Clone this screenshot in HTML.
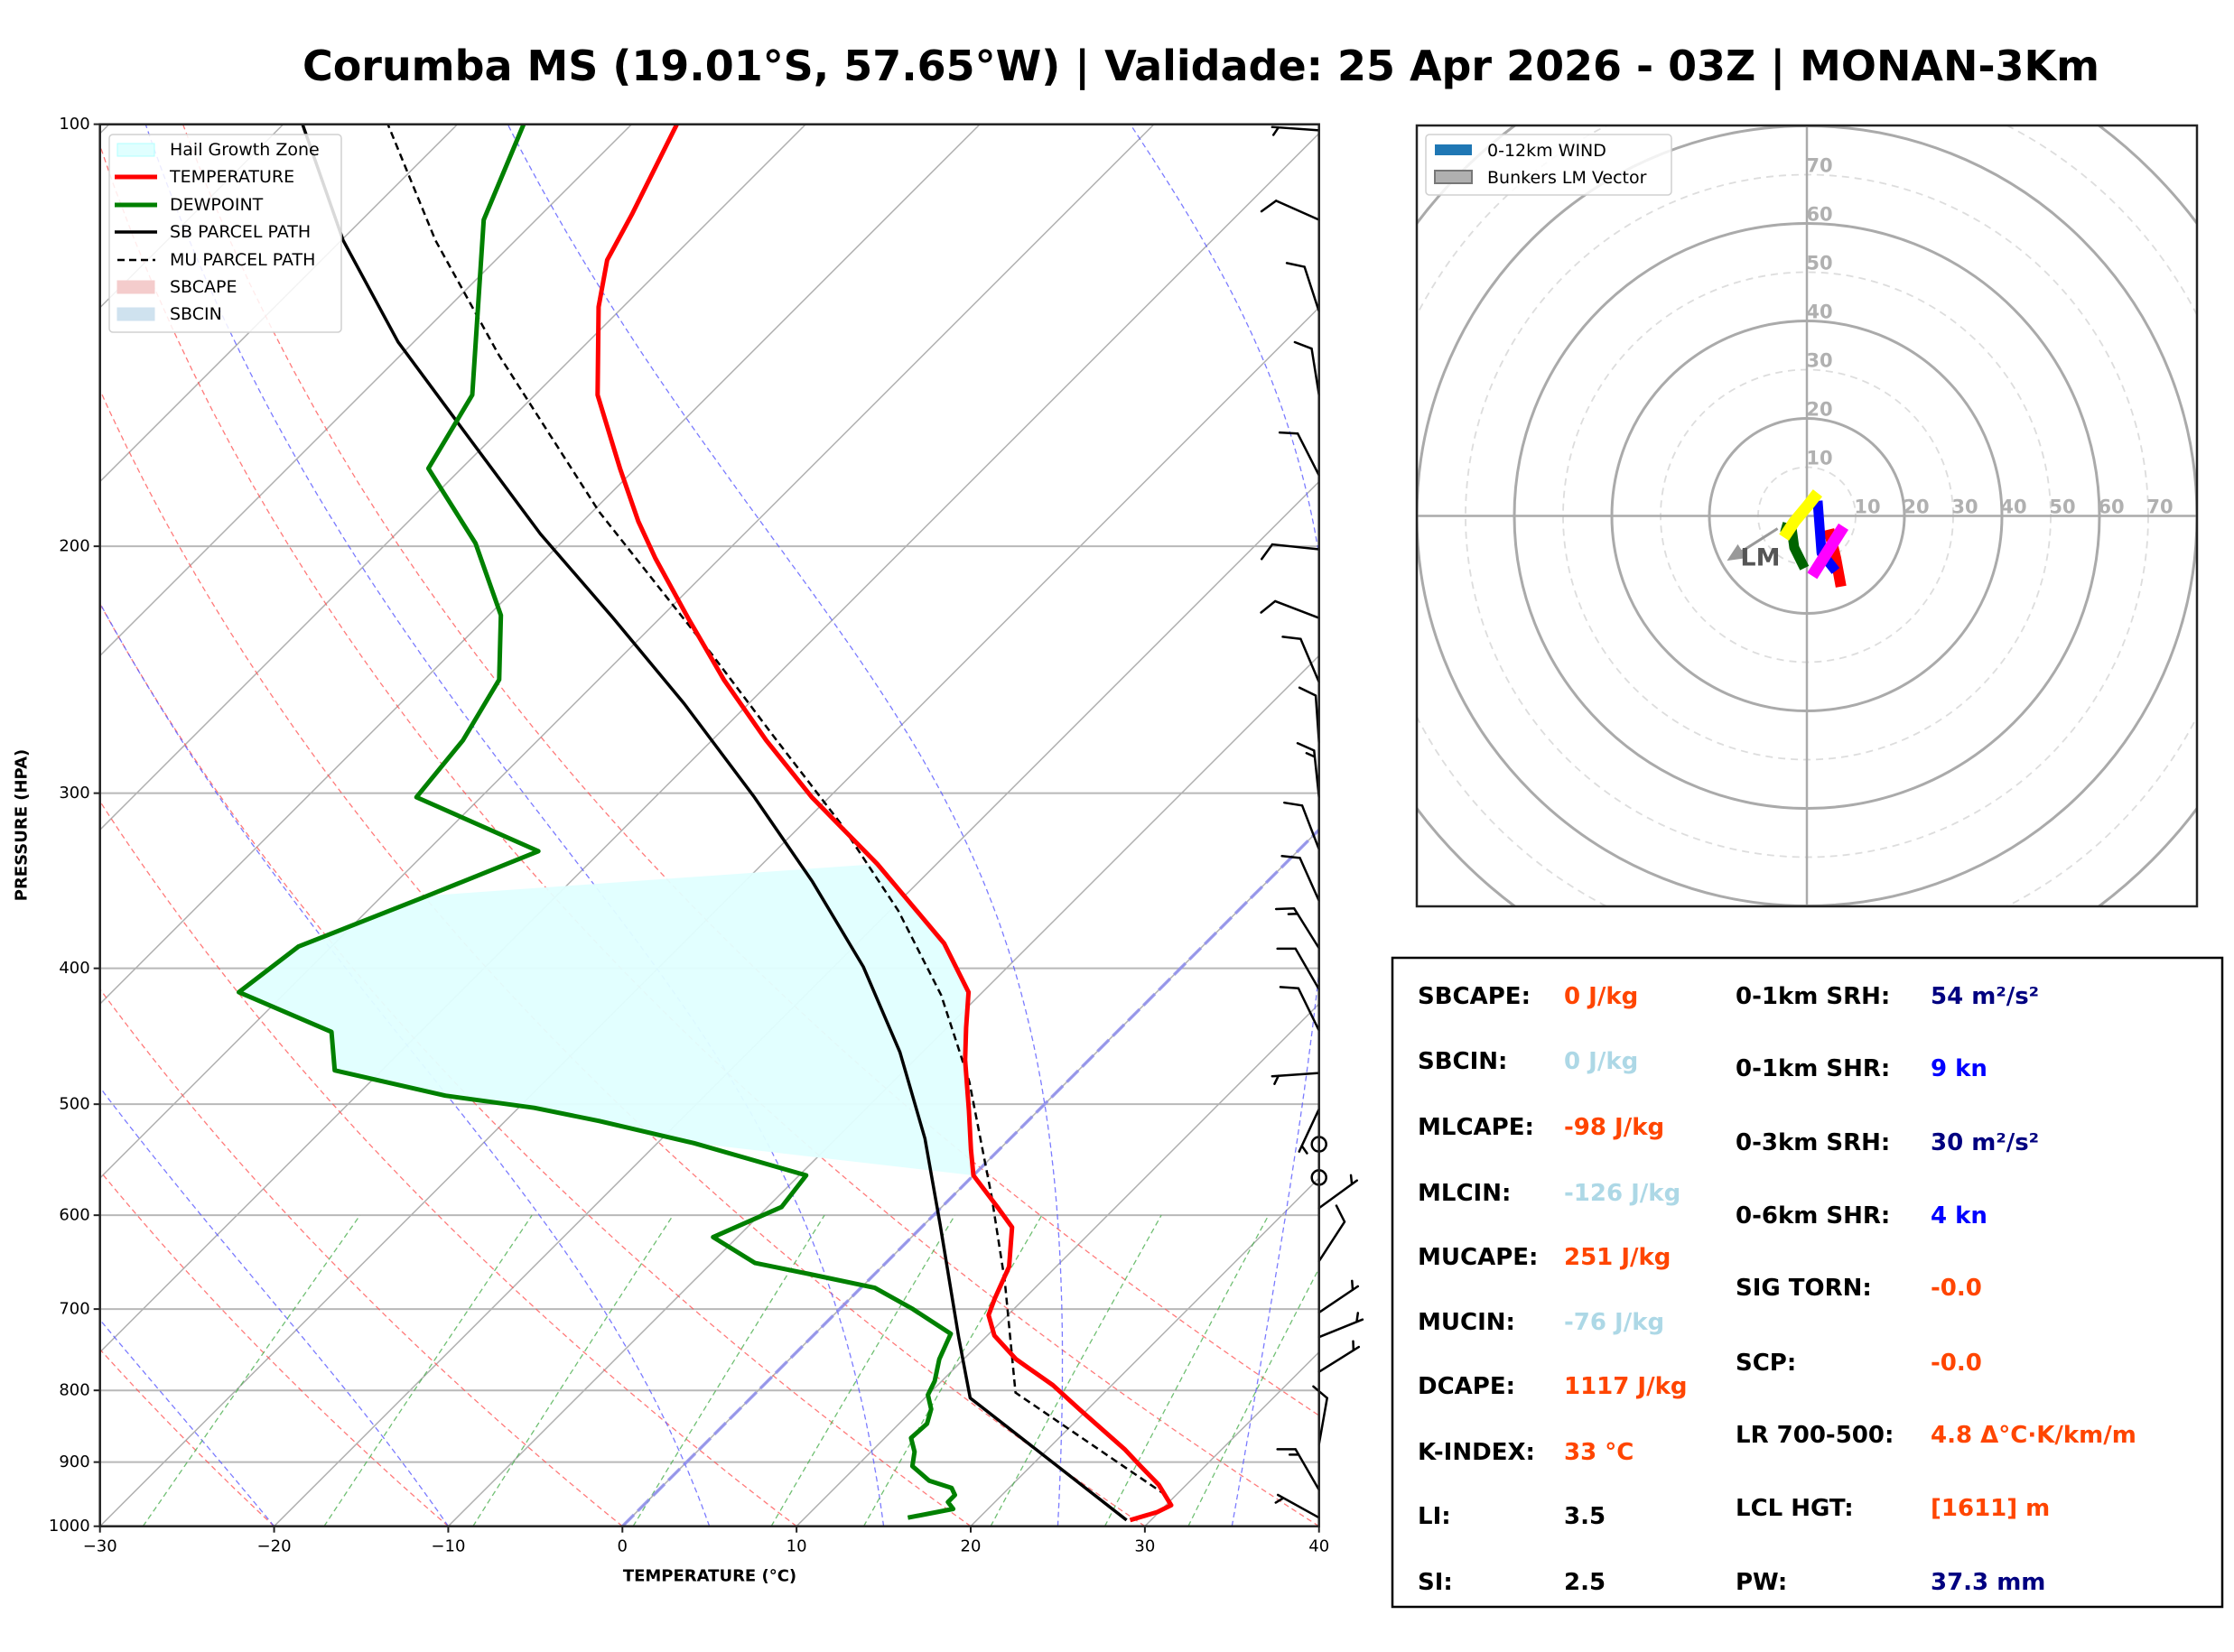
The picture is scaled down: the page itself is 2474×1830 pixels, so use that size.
<!DOCTYPE html>
<html><head><meta charset="utf-8"><style>
html,body{margin:0;padding:0;background:#fff;}
svg{display:block;font-family:"DejaVu Sans","Liberation Sans",sans-serif;}
</style></head><body>
<svg id="fig" xmlns="http://www.w3.org/2000/svg" width="2474" height="1830" viewBox="0 0 2474 1830">
<rect x="0" y="0" width="2474" height="1830" fill="#fff"/>
<text x="1330" y="73" text-anchor="middle" dominant-baseline="central" font-size="46" font-weight="bold" textLength="1990" lengthAdjust="spacingAndGlyphs">Corumba MS (19.01°S, 57.65°W) | Validade: 25 Apr 2026 - 03Z | MONAN-3Km</text>
<defs>
<clipPath id="skclip"><rect x="110.7" y="137.7" width="1350" height="1553"/></clipPath>
<clipPath id="hdclip"><rect x="1569" y="139" width="864" height="865"/></clipPath>
</defs>
<g id="skew"></g>
<g id="hodo"></g>
<g id="stats"></g>
</svg>
<script>
// ---------- DATA ----------
const tempP = [990,977,966,934,906,881,825,793,760,731,707,688,653,612,592,562,539,505,465,441,416,384,337,302,275,249,225,204,192,176,156,135,125,116,100];
const tempT = [28.8,29.9,30.3,28.4,26.3,24.4,19.5,16.6,13.0,10.4,8.9,8.3,7.3,5.2,3.2,0.0,-1.6,-4.0,-7.1,-8.9,-10.8,-15.0,-23.4,-31.0,-36.9,-42.8,-48.4,-53.7,-56.8,-60.9,-66.4,-71.4,-73.6,-74.8,-77.4];
const dewP = [986,972,961,950,939,928,906,885,865,845,825,806,788,760,729,700,676,661,649,622,592,562,533,514,503,493,473,444,416,386,355,330,302,275,249,224,199,176,156,117,100];
const dewT = [15.9,18.0,17.3,17.3,16.7,15.0,13.2,12.5,11.5,11.6,11.0,10.0,9.6,8.6,7.8,4.2,0.8,-3.7,-7.5,-11.4,-9.2,-9.6,-17.9,-24.6,-29.1,-34.9,-42.7,-45.1,-52.7,-51.9,-47.4,-43.6,-53.7,-54.3,-55.7,-59.3,-64.9,-71.9,-73.6,-83.0,-86.2];
const sbP = [990,810,734,609,529,459,399,347,302,259,225,196,168,143,121,100];
const sbT = [28.6,12.6,8.5,0.9,-4.9,-11.3,-18.3,-26.1,-34.3,-43.7,-52.7,-61.7,-71.1,-80.9,-89.9,-98.9];
const muP = [950,803,669,581,482,418,364,315,275,239,189,146,121,100];
const muT = [29.4,14.9,7.9,2.2,-5.6,-12.2,-19.5,-27.9,-36.3,-44.9,-59.6,-74.4,-84.6,-94.0];
const hailTopP = 337, hailBotP = 562, hailDewTopP = 355, hailDewBotP = 533;
const barbP = [101,117,136,156,178,201,225,250,276,302,329,358,387,414,443,475,504,593,647,704,733,776,874,942,986];
const barbDir = [274,294,342,351,333,276,291,337,356,354,339,336,328,330,334,266,205,54,33,56,68,58,10,330,299];
const barbSpd = [5,10,10,10,10,10,10,10,10,15,10,10,15,10,10,5,5,5,10,5,5,5,10,15,5];
const calmP = [534,564];
const xTicks = [-30,-20,-10,0,10,20,30,40];
const yTicks = [100,200,300,400,500,600,700,800,900,1000];
const dryTheta = [-30,-20,-10,0,10,20,30,40,50];
const moistT0 = [-20,-10,5,15,25,35];
const mixW = [0.4,1,2,4,7,10,16,24,32];
// hodograph series (u,v in kn)
const hodoRedU = [7.0,5.9,4.5], hodoRedV = [-14.5,-8.6,-2.8];
const hodoMagU = [7.5,1.1], hodoMagV = [-2.2,-12.3];
const hodoBlueU = [5.9,3.0,2.2], hodoBlueV = [-11.3,-7.6,3.1];
const hodoYelU = [2.2,0.1,-2.6,-4.7], hodoYelV = [4.7,2.0,-1.2,-4.4];
const hodoGrnU = [-0.5,-2.6,-3.1,-5.2], hodoGrnV = [-10.7,-6.5,-2.8,-2.2];
const lmU = [-6.0,-16.4], lmV = [-2.6,-9.2];
const hodoRings = [10,20,30,40,50,60,70,80,90,100];
const hodoLabels = [10,20,30,40,50,60,70];
const statLeftLabels = ["SBCAPE:","SBCIN:","MLCAPE:","MLCIN:","MUCAPE:","MUCIN:","DCAPE:","K-INDEX:","LI:","SI:"];
const statLeftValues = ["0 J/kg","0 J/kg","-98 J/kg","-126 J/kg","251 J/kg","-76 J/kg","1117 J/kg","33 °C","3.5","2.5"];
const statLeftColors = ["#ff4500","#add8e6","#ff4500","#add8e6","#ff4500","#add8e6","#ff4500","#ff4500","#000","#000"];
const statRightLabels = ["0-1km SRH:","0-1km SHR:","0-3km SRH:","0-6km SHR:","SIG TORN:","SCP:","LR 700-500:","LCL HGT:","PW:"];
const statRightValues = ["54 m²/s²","9 kn","30 m²/s²","4 kn","-0.0","-0.0","4.8 Δ°C·K/km/m","[1611] m","37.3 mm"];
const statRightColors = ["#000080","#0000ff","#000080","#0000ff","#ff4500","#ff4500","#ff4500","#ff4500","#000080"];

// ---------- HELPERS ----------
const NS="http://www.w3.org/2000/svg";
function mk(tag, attrs, parent){const e=document.createElementNS(NS,tag);for(const k in attrs)e.setAttribute(k,attrs[k]);parent.appendChild(e);return e;}
const L=110.7,R=1460.7,B=1690.7,T=137.7,PXC=19.286,PXL=674.5;
function yP(p){return B-PXL*Math.log(1000/p);}
function xT(t,p){return L+(t+30)*PXC+(B-yP(p));}
function ptsTP(ts,ps){return ts.map((t,i)=>xT(t,ps[i]).toFixed(1)+","+yP(ps[i]).toFixed(1)).join(" ");}

const sk=document.getElementById('skew');
const bg=mk('g',{'clip-path':'url(#skclip)'},sk);



yTicks.forEach(p=>{const l=mk('line',{x1:L,x2:R,y1:yP(p),y2:yP(p),stroke:'#b8b8b8','stroke-width':2},bg);

});
for(let t=-150;t<=40;t+=10){const l=mk('line',{x1:xT(t,1000),y1:yP(1000),x2:xT(t,100),y2:yP(100),stroke:'#b0b0b0','stroke-width':1.5},bg);

}
dryTheta.forEach(th=>{const ts=[],ps=[];for(let p=1000;p>=100;p-=10){ps.push(p);ts.push((th+273.15)*Math.pow(p/1000,0.2857)-273.15);}
const l=mk('polyline',{points:ptsTP(ts,ps),fill:'none',stroke:'#ff4d4d','stroke-opacity':0.75,'stroke-width':1.3,'stroke-dasharray':'6,4'},bg);

});
function es(tc){return 6.112*Math.exp(17.67*tc/(tc+243.5));}
moistT0.forEach(t0=>{let Tk=t0+273.15;const ts=[t0],ps=[1000];const Rd=287.04,Cp=1005.7,Lv=2.501e6,eps=0.622;
for(let p=1000;p>100;p-=2){const e=es(Tk-273.15);const rs=eps*e/(p-e);const dTdp=(Rd*Tk+Lv*rs)/(p*(Cp+Lv*Lv*rs*eps/(Rd*Tk*Tk)));Tk-=dTdp*2;ts.push(Tk-273.15);ps.push(p-2);}
const l=mk('polyline',{points:ptsTP(ts,ps),fill:'none',stroke:'#5a5aff','stroke-opacity':0.8,'stroke-width':1.3,'stroke-dasharray':'6,4'},bg);

});
mixW.forEach(w=>{const ts=[],ps=[];for(let p=1000;p>=600;p-=20){const e=(w/1000)*p/(0.622+w/1000);const a=Math.log(e/6.112);ts.push(243.5*a/(17.67-a));ps.push(p);}
const l=mk('polyline',{points:ptsTP(ts,ps),fill:'none',stroke:'#4caf50','stroke-opacity':0.8,'stroke-width':1.3,'stroke-dasharray':'6,4'},bg);

});
const zl=mk('line',{x1:xT(0,1000),y1:yP(1000),x2:xT(0,100),y2:yP(100),stroke:'#8c8cf0','stroke-opacity':0.8,'stroke-width':3.5,'stroke-dasharray':'18,6'},bg);



(function(){const tsT=[],psT=[],tsD=[],psD=[];
tempP.forEach((p,i)=>{if(p<=hailBotP&&p>=hailTopP){psT.push(p);tsT.push(tempT[i]);}});
dewP.forEach((p,i)=>{if(p<=hailDewBotP&&p>=hailDewTopP){psD.push(p);tsD.push(dewT[i]);}});
const pts=ptsTP(tsT,psT)+" "+ptsTP(tsD.slice().reverse(),psD.slice().reverse());
const h=mk('polygon',{points:pts,fill:'#e0ffff','fill-opacity':0.95},bg);

})();

const pr=mk('g',{'clip-path':'url(#skclip)'},sk);


let e;
e=mk('polyline',{points:ptsTP(sbT,sbP),fill:'none',stroke:'#000','stroke-width':3.5,'stroke-linejoin':'round'},pr);


e=mk('polyline',{points:ptsTP(muT,muP),fill:'none',stroke:'#000','stroke-width':2.5,'stroke-dasharray':'8,5'},pr);


e=mk('polyline',{points:ptsTP(dewT,dewP),fill:'none',stroke:'#008000','stroke-width':5,'stroke-linejoin':'round'},pr);


e=mk('polyline',{points:ptsTP(tempT,tempP),fill:'none',stroke:'#ff0000','stroke-width':5,'stroke-linejoin':'round'},pr);



const bw=mk('g',{stroke:'#000','stroke-width':2.5,fill:'none','stroke-linecap':'round'},sk);


barbP.forEach((p,i)=>{const d=barbDir[i]*Math.PI/180;const sx=Math.sin(d),sy=-Math.cos(d);const x0=R,y0=yP(p),Ls=52;
const tx=x0+Ls*sx,ty=y0+Ls*sy;const nx=-sy,ny=sx;let path=`M${x0},${y0}L${tx},${ty}`;
let spd=barbSpd[i],pos=0;const full=Math.floor(spd/10),half=(spd%10)>=5;
for(let k=0;k<full;k++){const bx=tx-sx*pos,by=ty-sy*pos;path+=`M${bx},${by}l${20*(0.5*sx-0.866*nx)},${20*(0.5*sy-0.866*ny)}`;pos+=7;}
if(half){if(full===0)pos=7;const bx=tx-sx*pos,by=ty-sy*pos;path+=`M${bx},${by}l${10*(0.5*sx-0.866*nx)},${10*(0.5*sy-0.866*ny)}`;}
const b=mk('path',{d:path},bw);

});
calmP.forEach(p=>{const c=mk('circle',{cx:R,cy:yP(p),r:8},bw);

});

const ax=mk('g',{},sk);


mk('rect',{x:L,y:T,width:R-L,height:B-T,fill:'none',stroke:'#222','stroke-width':2.5},ax);
xTicks.forEach(t=>{const x=xT(t,1000);mk('line',{x1:x,x2:x,y1:B,y2:B+7,stroke:'#222','stroke-width':2},ax);
const tx=mk('text',{x:x,y:1713,'text-anchor':'middle','dominant-baseline':'central','font-size':18},ax);tx.textContent=(t<0?'\u2212'+(-t):''+t);

});
yTicks.forEach(p=>{const y=yP(p);mk('line',{x1:L-7,x2:L,y1:y,y2:y,stroke:'#222','stroke-width':2},ax);
const tx=mk('text',{x:L-11,y:y,'text-anchor':'end','dominant-baseline':'central','font-size':18},ax);tx.textContent=p;

});
let t1=mk('text',{x:786,y:1746,'text-anchor':'middle','dominant-baseline':'central','font-size':18,'font-weight':'bold'},ax);t1.textContent='TEMPERATURE (°C)';


t1=mk('text',{x:24,y:914,'text-anchor':'middle','dominant-baseline':'central','font-size':18,'font-weight':'bold',transform:'rotate(-90 24 914)'},ax);t1.textContent='PRESSURE (HPA)';



const lg=mk('g',{},sk);


mk('rect',{x:121,y:149,width:257,height:219,rx:4,fill:'#fff','fill-opacity':0.85,stroke:'#d0d0d0','stroke-width':1.5},lg);
const legItems=[['Hail Growth Zone','patch','#e0ffff','#b0ffff'],['TEMPERATURE','line','#ff0000'],['DEWPOINT','line','#008000'],['SB PARCEL PATH','line','#000'],['MU PARCEL PATH','dash','#000'],['SBCAPE','patch','#f4cccc','#f4cccc'],['SBCIN','patch','#cfe2ef','#cfe2ef']];
const legY=[166,196,227,257,288,318,348];
legItems.forEach((it,i)=>{const y=legY[i];
if(it[1]==='patch')mk('rect',{x:130,y:y-7,width:41,height:14,fill:it[2],stroke:it[3],'stroke-width':1},lg);
else if(it[1]==='line')mk('line',{x1:127,x2:174,y1:y,y2:y,stroke:it[2],'stroke-width':it[2]==='#000'?3.5:5},lg);
else mk('line',{x1:130,x2:172,y1:y,y2:y,stroke:it[2],'stroke-width':2.5,'stroke-dasharray':'8,5'},lg);
const tx=mk('text',{x:188,y:y,'dominant-baseline':'central','font-size':19},lg);tx.textContent=it[0];

});

// ---------- HODOGRAPH ----------
const hd=document.getElementById('hodo');
const HX0=1569,HY0=139,HW=864,HH=865;
const CX=HX0+HW/2,CY=HY0+HH/2,KS=HW/160;
function hx(u){return CX+u*KS;} function hy(v){return CY-v*KS;}
const hg=mk('g',{'clip-path':'url(#hdclip)'},hd);
hodoRings.forEach(r=>{const c=mk('circle',{cx:CX,cy:CY,r:r*KS,fill:'none',stroke:r%20===0?'#aaaaaa':'#dddddd','stroke-width':r%20===0?3:1.8,'stroke-dasharray':r%20===0?'none':'8,6'},hg);

});
mk('line',{x1:HX0,x2:HX0+HW,y1:CY,y2:CY,stroke:'#aaaaaa','stroke-width':2.5},hg);
mk('line',{x1:CX,x2:CX,y1:HY0,y2:HY0+HH,stroke:'#aaaaaa','stroke-width':2.5},hg);
hodoLabels.forEach(r=>{let tx=mk('text',{x:CX+r*KS+13,y:CY-10,'text-anchor':'middle','dominant-baseline':'central','font-size':21,'font-weight':'bold',fill:'#b0b0b0'},hg);tx.textContent=r;


tx=mk('text',{x:CX+14,y:CY-r*KS-10,'text-anchor':'middle','dominant-baseline':'central','font-size':21,'font-weight':'bold',fill:'#b0b0b0'},hg);tx.textContent=r;

});
function trace(us,vs,col,name,w){const p=us.map((u,i)=>hx(u).toFixed(1)+","+hy(vs[i]).toFixed(1)).join(" ");
const l=mk('polyline',{points:p,fill:'none',stroke:col,'stroke-width':w,'stroke-linejoin':'round'},hg);

}
trace(hodoRedU,hodoRedV,'#ff0000','hodo-trace-red',12);
trace(hodoBlueU,hodoBlueV,'#0000ff','hodo-trace-blue',11);
trace(hodoMagU,hodoMagV,'#ff00ff','hodo-trace-magenta',13);
trace(hodoGrnU,hodoGrnV,'#006400','hodo-trace-green',11);
trace(hodoYelU,hodoYelV,'#ffff00','hodo-trace-yellow',13);
(function(){const x0=hx(lmU[0]),y0=hy(lmV[0]),x1=hx(lmU[1]),y1=hy(lmV[1]);const dx=x1-x0,dy=y1-y0,len=Math.hypot(dx,dy),ux=dx/len,uy=dy/len;
const l=mk('line',{x1:x0,y1:y0,x2:x1-ux*14,y2:y1-uy*14,stroke:'#999','stroke-width':3},hg);


const bx=x1-ux*20,by=y1-uy*20;
mk('polygon',{points:`${x1},${y1} ${bx-uy*9},${by+ux*9} ${bx+uy*9},${by-ux*9}`,fill:'#999'},hg);
const t=mk('text',{x:hx(lmU[1])+37,y:hy(lmV[1])-3,'text-anchor':'middle','dominant-baseline':'central','font-size':27,'font-weight':'bold',fill:'#555'},hg);t.textContent='LM';

})();
mk('rect',{x:HX0,y:HY0,width:HW,height:HH,fill:'none',stroke:'#222','stroke-width':2.5},hd);
const hl=mk('g',{},hd);


mk('rect',{x:1579,y:149,width:272,height:67,rx:4,fill:'#fff','fill-opacity':0.85,stroke:'#d0d0d0','stroke-width':1.5},hl);
mk('rect',{x:1589,y:160,width:41,height:12,fill:'#1f77b4'},hl);
mk('rect',{x:1589,y:189,width:41,height:14,fill:'#b0b0b0',stroke:'#777','stroke-width':2},hl);
let ht=mk('text',{x:1647,y:167,'dominant-baseline':'central','font-size':19},hl);ht.textContent='0-12km WIND';


ht=mk('text',{x:1647,y:197,'dominant-baseline':'central','font-size':19},hl);ht.textContent='Bunkers LM Vector';



// ---------- STATS ----------
const st=document.getElementById('stats');
mk('rect',{x:1542,y:1061,width:919,height:719,fill:'#fff',stroke:'#000','stroke-width':2.5},st);
const rowsL=[1104,1176,1249,1322,1393,1465,1536,1609,1680,1753];
const rowsR=[1104,1184,1266,1347,1427,1510,1590,1671,1753];
statLeftLabels.forEach((s,i)=>{let t=mk('text',{x:1570,y:rowsL[i],'dominant-baseline':'central','font-size':26,'font-weight':'bold'},st);t.textContent=s;


t=mk('text',{x:1732,y:rowsL[i],'dominant-baseline':'central','font-size':26,'font-weight':'bold',fill:statLeftColors[i]},st);t.textContent=statLeftValues[i];

});
statRightLabels.forEach((s,i)=>{let t=mk('text',{x:1922,y:rowsR[i],'dominant-baseline':'central','font-size':26,'font-weight':'bold'},st);t.textContent=s;


t=mk('text',{x:2138,y:rowsR[i],'dominant-baseline':'central','font-size':26,'font-weight':'bold',fill:statRightColors[i]},st);t.textContent=statRightValues[i];

});
</script>
</body></html>
